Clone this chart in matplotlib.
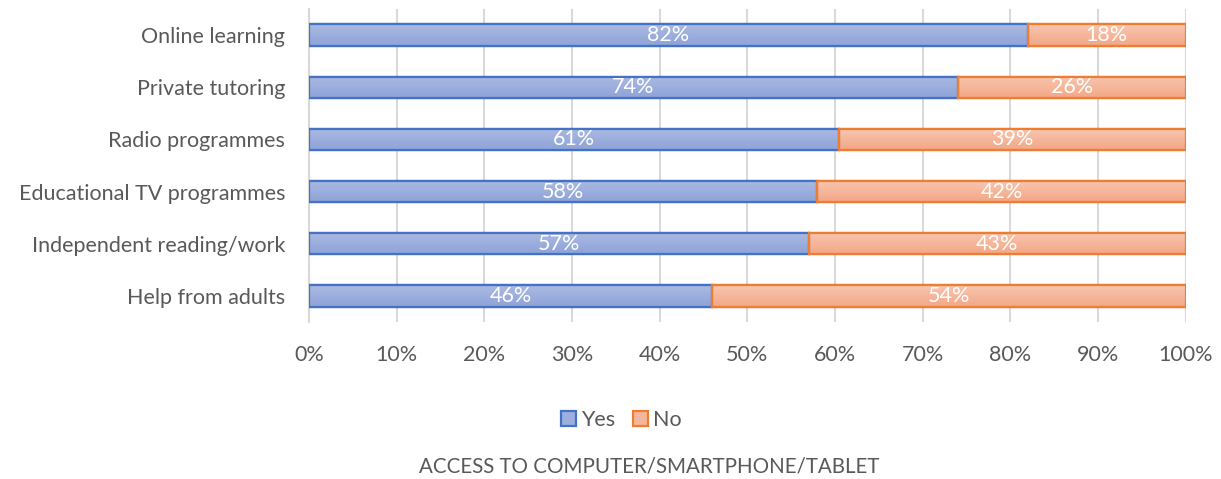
import numpy as np
import matplotlib.pyplot as plt
from matplotlib.colors import LinearSegmentedColormap

categories = ['Online learning', 'Private tutoring', 'Radio programmes',
              'Educational TV programmes', 'Independent reading/work', 'Help from adults']
yes = [82, 74, 60.5, 58, 57, 46]
no = [18, 26, 39.5, 42, 43, 54]
yes_labels = ['82%', '74%', '61%', '58%', '57%', '46%']
no_labels = ['18%', '26%', '39%', '42%', '43%', '54%']
xticks = [0, 10, 20, 30, 40, 50, 60, 70, 80, 90, 100]

plt.rcParams['font.family'] = ['Lato', 'DejaVu Sans']
gray = '#595959'

fig = plt.figure(figsize=(12.21, 4.79), dpi=100)
ax = fig.add_axes([0.253, 0.328, 0.718, 0.653])

y = np.arange(len(categories))
h = 0.41
b1 = ax.barh(y, yes, height=h, color='#9CAFDD', edgecolor='#4472C4', linewidth=1.6,
             label='Yes', zorder=3)
b2 = ax.barh(y, no, left=yes, height=h, color='#F5B79C', edgecolor='#ED7D31', linewidth=1.6,
             label='No', zorder=3)

# soft vertical gradient inside the bars
grad = np.linspace(0, 1, 64).reshape(-1, 1)
cmap_blue = LinearSegmentedColormap.from_list('b', ['#ABBAE2', '#8EA3D8'])
cmap_orange = LinearSegmentedColormap.from_list('o', ['#F8C6B0', '#F3A786'])
for bars, cmap in [(b1, cmap_blue), (b2, cmap_orange)]:
    for p in bars:
        x0, y0 = p.get_x(), p.get_y()
        w, hh = p.get_width(), p.get_height()
        im = ax.imshow(grad, cmap=cmap, aspect='auto', extent=(x0, x0 + w, y0 + hh, y0),
                       origin='upper', zorder=3.5, interpolation='bicubic')
        im.set_clip_path(p)
        edge = plt.Rectangle((x0, y0), w, hh, fill=False, edgecolor=p.get_edgecolor(),
                             linewidth=1.6, zorder=3.6)
        ax.add_patch(edge)

for i in range(len(categories)):
    ax.text(yes[i] / 2, y[i], yes_labels[i], ha='center', va='center',
            color='white', fontsize=15.5, zorder=4)
    ax.text(yes[i] + no[i] / 2, y[i], no_labels[i], ha='center', va='center',
            color='white', fontsize=15.5, zorder=4)

ax.set_xlim(0, 100)
ax.set_ylim(len(categories) - 0.5, -0.5)
ax.set_yticks(y)
ax.set_yticklabels(categories, fontsize=15.5, color=gray)
ax.set_xticks(xticks)
ax.set_xticklabels([f'{t}%' for t in xticks], fontsize=15.5, color=gray)
ax.tick_params(axis='x', length=0, pad=17)
ax.tick_params(axis='y', length=0, pad=17)
ax.grid(axis='x', color='#D9D9D9', linewidth=1.5, zorder=0)
for s in ['top', 'right', 'bottom']:
    ax.spines[s].set_visible(False)
ax.spines['left'].set_color('#D9D9D9')
ax.spines['left'].set_linewidth(1.5)

fig.legend(handles=[b1, b2], labels=['Yes', 'No'], loc='center',
           bbox_to_anchor=(0.509, 0.123), ncol=2, frameon=False, fontsize=15.5,
           labelcolor=gray, handlelength=0.7, handleheight=0.7, handletextpad=0.25,
           columnspacing=0.8)
fig.text(0.532, 0.027, 'ACCESS TO COMPUTER/SMARTPHONE/TABLET', ha='center', va='center',
         fontsize=14.8, color=gray)

fig.savefig('out.png', dpi=100)
